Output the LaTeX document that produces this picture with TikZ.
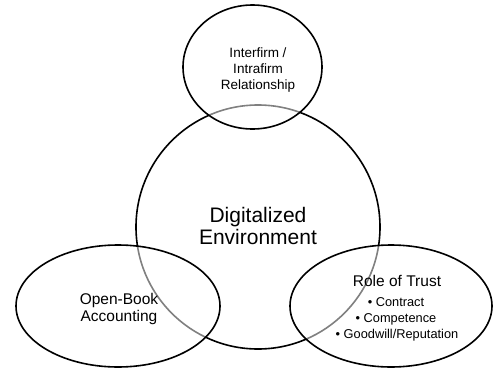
\documentclass[tikz,border=0pt]{standalone}
\usepackage{fontspec}
\setmainfont{Liberation Sans}
\usetikzlibrary{shapes.geometric}
\begin{document}
\begin{tikzpicture}[x=1pt,y=-1pt,
  ring/.style={draw=black, line width=1.6pt, inner sep=0pt, outer sep=0pt},
  lens/.style={ring, ellipse, fill=white, fill opacity=0.5, draw opacity=1},
  big/.style={font=\fontsize{21}{25}\selectfont, anchor=base, inner sep=0pt},
  mid/.style={font=\fontsize{13.5}{16}\selectfont, anchor=base, inner sep=0pt},
  lab/.style={font=\fontsize{15.5}{18}\selectfont, anchor=base, inner sep=0pt},
  small/.style={font=\fontsize{12.8}{15}\selectfont, anchor=base, inner sep=0pt}]
\useasboundingbox (0,0) rectangle (493,370);
\node[ring, circle, minimum size=244pt] (env) at (258,227) {};
\node[lens, minimum width=139pt, minimum height=124pt] (rel) at (252.5,67) {};
\node[lens, minimum width=204pt, minimum height=122pt] (obk) at (118,306) {};
\node[lens, minimum width=202pt, minimum height=122pt] (tru) at (391,306) {};
% texts
\node[mid] (rel1) at (258,57) {Interfirm /};
\node[mid] (rel2) at (258,73) {Intrafirm};
\node[mid] (rel3) at (258,89) {Relationship};
\node[big] (env1) at (258,222.5) {Digitalized};
\node[big] (env2) at (258,244.5) {Environment};
\node[lab] (obk1) at (119,304) {Open-Book};
\node[lab] (obk2) at (119,321) {Accounting};
\node[lab] (tru1) at (397,286) {Role of Trust};
\node[small] (tru2) at (396,306) {\textbullet\ Contract};
\node[small] (tru3) at (396,322) {\textbullet\ Competence};
\node[small] (tru4) at (397,338) {\textbullet\ Goodwill/Reputation};
\end{tikzpicture}
\end{document}
